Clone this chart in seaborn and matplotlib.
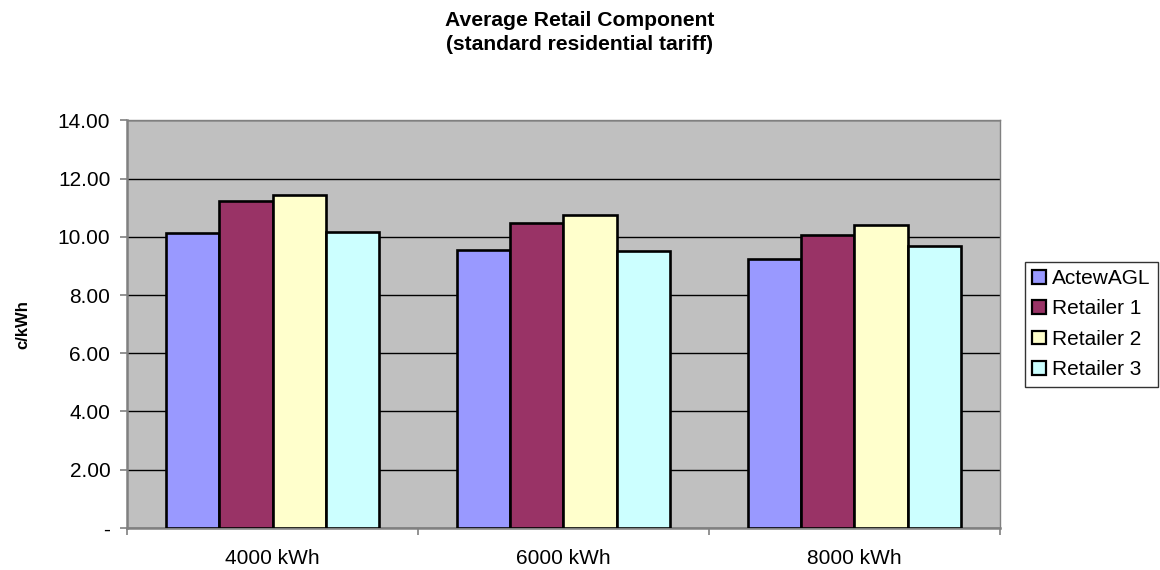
import matplotlib
matplotlib.use("Agg")
import matplotlib.pyplot as plt
from matplotlib.ticker import FuncFormatter, FixedLocator
import seaborn as sns
import pandas as pd

# Average retail component (c/kWh) by annual consumption and retailer
consumption = ["4000 kWh", "6000 kWh", "8000 kWh"]
retailers = ["ActewAGL", "Retailer 1", "Retailer 2", "Retailer 3"]
actewagl = [10.13, 9.53, 9.23]
retailer_1 = [11.23, 10.48, 10.05]
retailer_2 = [11.45, 10.76, 10.42]
retailer_3 = [10.15, 9.51, 9.68]

colors = ["#9999FF", "#993366", "#FFFFCC", "#CCFFFF"]

rows = []
for name, vals in zip(retailers, [actewagl, retailer_1, retailer_2, retailer_3]):
    for cat, v in zip(consumption, vals):
        rows.append({"Consumption": cat, "Retailer": name, "Value": v})
df = pd.DataFrame(rows)

sns.set_theme(style="white")
plt.rcParams["font.family"] = ["Liberation Sans", "DejaVu Sans"]
plt.rcParams["text.color"] = "black"
plt.rcParams["axes.labelcolor"] = "black"

fig = plt.figure(figsize=(11.6, 5.7), dpi=100)
ax = fig.add_axes([0.1095, 0.0737, 0.7525, 0.7153])
ax.set_facecolor("#C0C0C0")

sns.barplot(data=df, x="Consumption", y="Value", hue="Retailer",
            order=consumption, hue_order=retailers, palette=colors,
            width=0.733, edgecolor="black", linewidth=1.9, saturation=1,
            ax=ax, zorder=3)

ax.set_ylim(0, 14)
ax.set_xlim(-0.5, 2.5)
ax.yaxis.set_major_locator(FixedLocator([0, 2, 4, 6, 8, 10, 12, 14]))
ax.yaxis.set_major_formatter(FuncFormatter(lambda v, p: "-" if v == 0 else f"{v:.2f}"))
ax.grid(axis="y", color="black", linewidth=1.0, zorder=0)
ax.set_axisbelow(True)

for side in ["top", "right"]:
    ax.spines[side].set_color("#808080")
    ax.spines[side].set_linewidth(1.0)
for side in ["left", "bottom"]:
    ax.spines[side].set_color("#808080")
    ax.spines[side].set_linewidth(1.8)

ax.tick_params(axis="y", which="major", direction="out", length=5, width=1.2,
               color="#808080", labelcolor="black", labelsize=15, pad=7, left=True)
ax.tick_params(axis="x", which="major", length=0, labelsize=15,
               labelcolor="black", pad=15)
ax.set_xticks([-0.5, 0.5, 1.5, 2.5], minor=True)
ax.tick_params(axis="x", which="minor", direction="out", length=5, width=1.2,
               color="#808080", bottom=True)

ax.set_xlabel("")
ax.set_ylabel("c/kWh", fontsize=12, fontweight="bold", labelpad=20)

fig.suptitle("Average Retail Component\n(standard residential tariff)",
             x=0.5, y=0.98, va="top", fontsize=15.2, fontweight="bold",
             linespacing=1.3)

leg = ax.legend(loc="center left", bbox_to_anchor=(1.0286, 0.5), frameon=True,
                fancybox=False, edgecolor="black", fontsize=15,
                handlelength=0.65, handleheight=0.65, handletextpad=0.3,
                borderpad=0.35, labelspacing=0.55, borderaxespad=0)
leg.get_frame().set_linewidth(1.0)
for h in leg.legend_handles:
    h.set_edgecolor("black")
    h.set_linewidth(1.6)

fig.savefig("out.png", dpi=100, facecolor="white")
